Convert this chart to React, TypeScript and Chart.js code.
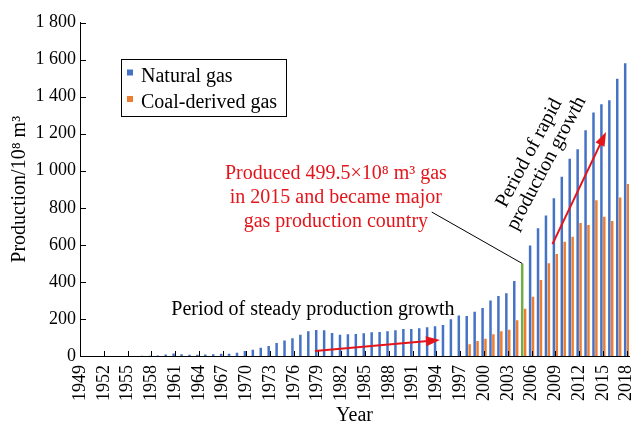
import React, { useEffect, useRef } from "react";
import { Chart, registerables } from "chart.js";

Chart.register(...registerables);

const FONT = "'Liberation Serif', 'Times New Roman', serif";
const BLUE = "#4472C4";
const ORANGE = "#ED7D31";
const GREEN = "#70AD47";
const RED = "#E3151B";

// Categories: years 1949..2018
const years: number[] = Array.from({ length: 70 }, (_, i) => 1949 + i);

// Natural gas production, 10^8 m3 (1949..2018)
const naturalGas: number[] = [
  0.1, 0.1, 0.1, 0.1, 0.1, 0.2, 0.2, 0.3, 0.7, 1.1, 2.9, // 1949-1959
  8, 14, 9, 7, 7, 8, 10, 12, 12, 17, // 1960-1969
  27, 34, 44, 54, 70, 83, 96, 115, 133, 140, // 1970-1979
  139, 124, 115, 117, 119, 123, 128, 130, 133, 139, // 1980-1989
  146, 146, 150, 155, 160, 167, 198, 218, 216, 239, // 1990-1999
  259, 299, 324, 339, 405, 499.5, 596, 690, 758, 852, // 2000-2009
  967, 1064, 1116, 1219, 1314, 1359, 1381, 1496, 1580, // 2010-2018
];

// Coal-derived gas production, 10^8 m3 (from 1998 to 2018)
const coalStartYear = 1998;
const coalGas: number[] = [
  63, 81, 93, 117, 133, 142, 193, 255, 320, 410, 500,
  551, 617, 644, 718, 707, 841, 751, 729, 855, 929,
];

const highlightYear = 2005;

const xTickYears: number[] = [
  1949, 1952, 1955, 1958, 1961, 1964, 1967, 1970, 1973, 1976, 1979, 1982,
  1985, 1988, 1991, 1994, 1997, 2000, 2003, 2006, 2009, 2012, 2015, 2018,
];
const yTickValues: number[] = [0, 200, 400, 600, 800, 1000, 1200, 1400, 1600, 1800];

const seriesLabels = ["Natural gas", "Coal-derived gas"];

const fmtY = (v: number) => {
  if (v >= 1000) {
    const th = Math.floor(v / 1000);
    const rest = String(v % 1000).padStart(3, "0");
    return `${th} ${rest}`;
  }
  return String(v);
};

function drawArrow(ctx: CanvasRenderingContext2D, x0: number, y0: number, x1: number, y1: number, color: string) {
  const ang = Math.atan2(y1 - y0, x1 - x0);
  const headLen = 14;
  const headHalf = 5;
  const bx = x1 - headLen * Math.cos(ang);
  const by = y1 - headLen * Math.sin(ang);
  ctx.save();
  ctx.strokeStyle = color;
  ctx.fillStyle = color;
  ctx.lineWidth = 2;
  ctx.beginPath();
  ctx.moveTo(x0, y0);
  ctx.lineTo(bx + 2 * Math.cos(ang), by + 2 * Math.sin(ang));
  ctx.stroke();
  ctx.beginPath();
  ctx.moveTo(x1, y1);
  ctx.lineTo(bx + headHalf * Math.sin(ang), by - headHalf * Math.cos(ang));
  ctx.lineTo(bx - headHalf * Math.sin(ang), by + headHalf * Math.cos(ang));
  ctx.closePath();
  ctx.fill();
  ctx.restore();
}

const annotationPlugin = {
  id: "customAnnotations",
  afterDraw(chart: any) {
    const { ctx, chartArea, scales } = chart;
    const xs = scales.x;
    const ys = scales.y;
    const X = (v: number) => xs.getPixelForValue(v);
    const Y = (v: number) => ys.getPixelForValue(v);
    ctx.save();

    // inward tick marks
    ctx.strokeStyle = "#000";
    ctx.lineWidth = 1;
    ctx.beginPath();
    xs.ticks.forEach((t: any) => {
      const px = Math.round(X(t.value)) + 0.5;
      ctx.moveTo(px, chartArea.bottom);
      ctx.lineTo(px, chartArea.bottom - 5);
    });
    ys.ticks.forEach((t: any) => {
      const py = Math.round(Y(t.value)) + 0.5;
      ctx.moveTo(chartArea.left, py);
      ctx.lineTo(chartArea.left + 6, py);
    });
    ctx.stroke();

    // legend
    ctx.strokeStyle = "#000";
    ctx.lineWidth = 1;
    ctx.strokeRect(121.5, 59.5, 165, 57);
    const colors = [BLUE, ORANGE];
    ctx.font = `20px ${FONT}`;
    ctx.textAlign = "left";
    ctx.textBaseline = "alphabetic";
    seriesLabels.forEach((lab, i) => {
      const base = 81.5 + i * 26.5;
      ctx.fillStyle = colors[i];
      ctx.fillRect(127, base - 12, 6, 6);
      ctx.fillStyle = "#000";
      ctx.fillText(lab, 141, base);
    });

    // steady growth text + arrow
    ctx.fillStyle = "#000";
    ctx.textAlign = "center";
    ctx.textBaseline = "middle";
    ctx.font = `20px ${FONT}`;
    ctx.fillText("Period of steady production growth", X(1978.4), Y(250));
    drawArrow(ctx, X(1978.66), Y(27), X(1994.44), Y(86), RED);

    // red annotation text
    ctx.fillStyle = RED;
    ctx.fillText("Produced 499.5×10⁸ m³ gas", X(1981.3), Y(983));
    ctx.fillText("in 2015 and became major", X(1981.3), Y(853));
    ctx.fillText("gas production country", X(1981.3), Y(724));

    // leader line to highlighted bar
    const meta = chart.getDatasetMeta(0);
    const idx = years.indexOf(highlightYear);
    const el = meta.data[idx];
    ctx.strokeStyle = "#000";
    ctx.lineWidth = 1;
    ctx.beginPath();
    ctx.moveTo(X(1993.4), Y(777));
    ctx.lineTo(el.x, el.y);
    ctx.stroke();

    // rotated rapid-growth text
    const ang = (-62 * Math.PI) / 180;
    ctx.fillStyle = "#000";
    [["Period of rapid", 2005.7, 1095], ["production growth", 2007.9, 1040]].forEach(
      ([txt, yr, val]: any) => {
        ctx.save();
        ctx.translate(X(yr), Y(val));
        ctx.rotate(ang);
        ctx.fillText(txt, 0, 0);
        ctx.restore();
      }
    );
    drawArrow(ctx, X(2008.64), Y(604), X(2015.4), Y(1209), RED);

    ctx.restore();
  },
};

export default function App() {
  const ref = useRef<HTMLCanvasElement>(null);
  useEffect(() => {
    document.body.style.margin = "0";
    const chart = new Chart(ref.current as HTMLCanvasElement, {
      type: "bar",
      data: {
        datasets: [
          {
            label: seriesLabels[0],
            data: naturalGas.map((v, i) => ({ x: years[i], y: v })),
            backgroundColor: years.map((yr) => (yr === highlightYear ? GREEN : BLUE)),
            borderWidth: 0,
            categoryPercentage: 0.73,
            barPercentage: 0.86,
          },
          {
            label: seriesLabels[1],
            data: coalGas.map((v, i) => ({ x: coalStartYear + i, y: v })),
            backgroundColor: ORANGE,
            borderWidth: 0,
            categoryPercentage: 0.73,
            barPercentage: 0.86,
          },
        ],
      },
      options: {
        responsive: false,
        animation: false,
        layout: { padding: { top: 22.5, right: 5, bottom: 0, left: 0 } },
        plugins: { legend: { display: false }, tooltip: { enabled: false } },
        scales: {
          x: {
            type: "linear",
            min: 1949,
            max: 2018.3,
            bounds: "data",
            offset: false,
            grid: { display: false, drawTicks: false },
            border: { display: true, color: "#000", width: 1 },
            afterBuildTicks: (s: any) => {
              s.ticks = xTickYears.map((v) => ({ value: v }));
            },
            afterFit: (s: any) => {
              s.height = 70;
              s.paddingLeft = 0;
              s.paddingRight = 0;
            },
            ticks: {
              autoSkip: false,
              minRotation: 90,
              maxRotation: 90,
              padding: 9,
              color: "#000",
              font: { family: FONT, size: 18 },
              callback: (v: any) => String(v),
            },
            title: {
              display: true,
              text: "Year",
              color: "#000",
              font: { family: FONT, size: 20, lineHeight: 1 },
              padding: 0,
            },
          },
          y: {
            min: 0,
            max: 1800,
            grid: { display: false, drawTicks: false },
            border: { display: true, color: "#000", width: 1 },
            afterBuildTicks: (s: any) => {
              s.ticks = yTickValues.map((v) => ({ value: v }));
            },
            afterFit: (s: any) => {
              s.width = 80;
            },
            ticks: {
              padding: 4,
              color: "#000",
              font: { family: FONT, size: 18 },
              callback: (v: any) => fmtY(Number(v)),
            },
            title: {
              display: true,
              text: "Production/10⁸ m³",
              color: "#000",
              font: { family: FONT, size: 20, lineHeight: 1.2 },
              padding: { top: 8, bottom: 0 },
            },
          },
        },
      } as any,
      plugins: [annotationPlugin],
    });
    return () => chart.destroy();
  }, []);
  return (
    <div style={{ width: 634, height: 426 }}>
      <canvas ref={ref} width={634} height={426} style={{ display: "block" }} />
    </div>
  );
}
